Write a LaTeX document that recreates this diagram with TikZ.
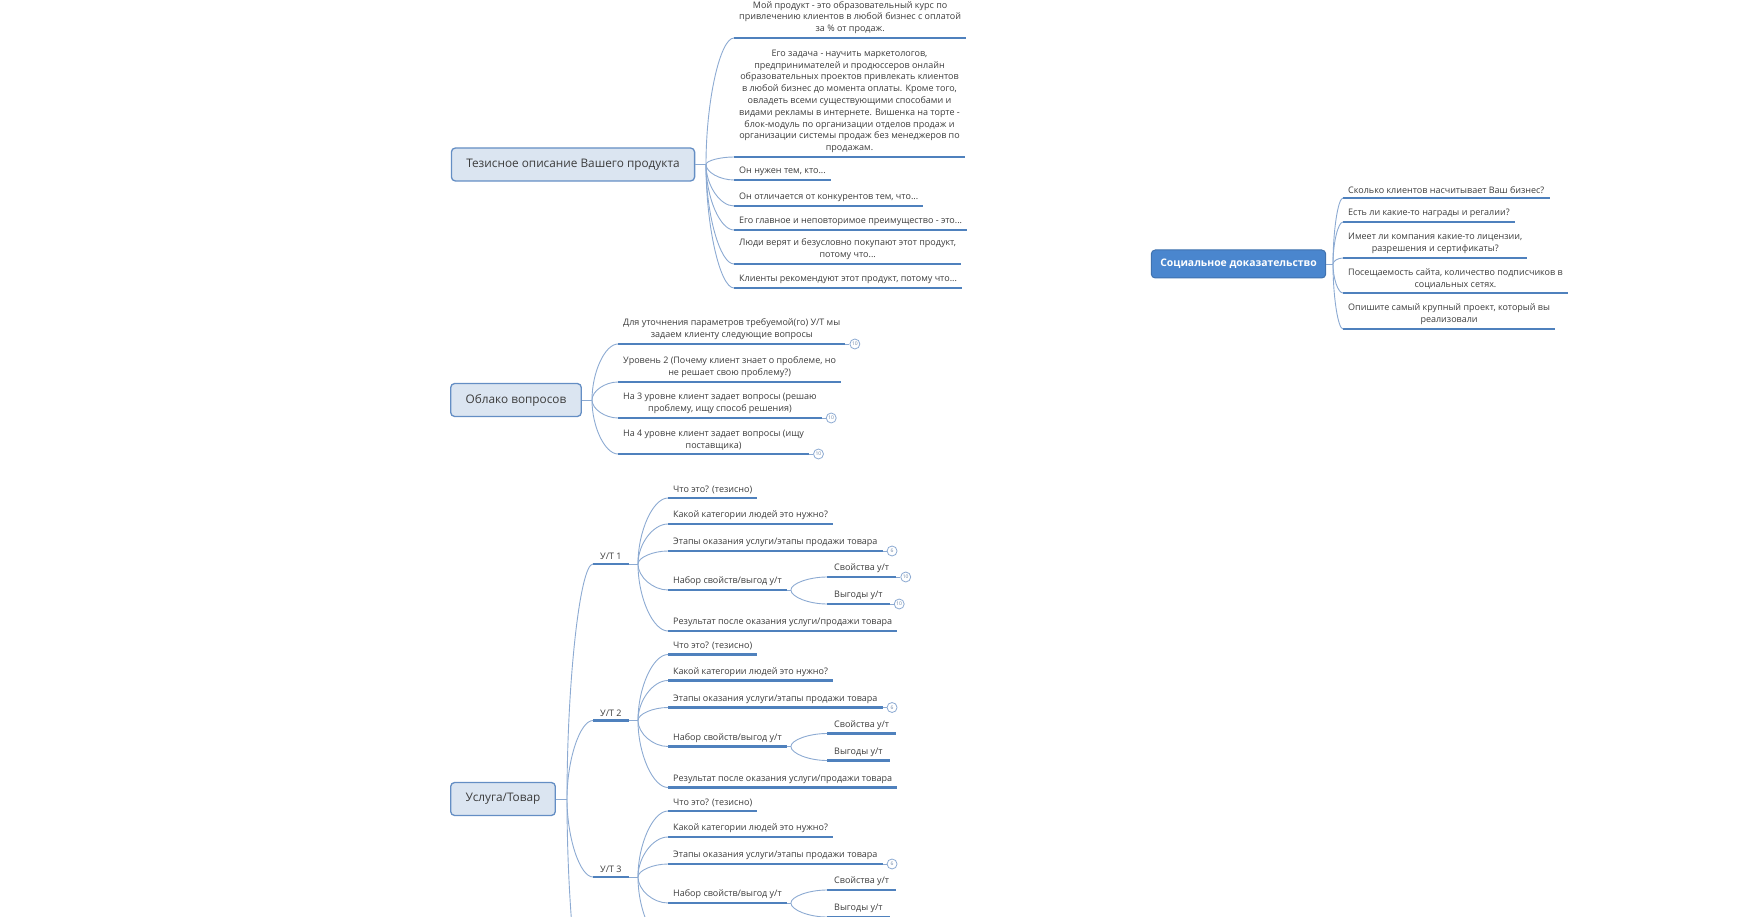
\documentclass[tikz,border=0pt]{standalone}
\usepackage{fontspec}
\setmainfont{Open Sans}
\usetikzlibrary{positioning,calc}

\definecolor{boxfill}{RGB}{219,229,241}
\definecolor{boxline}{RGB}{100,142,196}
\definecolor{socfill}{RGB}{74,134,206}
\definecolor{ulcol}{RGB}{79,129,189}
\definecolor{conncol}{RGB}{140,170,210}
\definecolor{txt}{RGB}{60,60,60}

\tikzset{
  main/.style={draw=boxline, fill=boxfill, rounded corners=4pt, line width=1.3pt, text=txt,
    font=\fontsize{11.8}{14}\selectfont, minimum height=33pt, inner xsep=15pt},
  social/.style={draw=socfill!85!black, fill=socfill, rounded corners=4pt, line width=1pt, text=white,
    font=\fontsize{10.4}{12}\selectfont\bfseries, minimum height=28pt, inner xsep=9pt},
  leaf/.style={anchor=south west, align=center, text=txt, font=\fontsize{9}{11.8}\selectfont,
    inner xsep=5pt, inner ysep=4pt},
  uline/.style={draw=ulcol, line width=2.6pt},
  conn/.style={draw=conncol, line width=0.9pt},
  badge/.style={circle, draw=conncol, fill=white, line width=0.8pt, inner sep=0pt, minimum size=10pt,
    text=conncol!80!black, font=\fontsize{5}{5}\selectfont},
}

% leaf text with its underline
\newcommand\leaf[4][]{\node[leaf,#1] (#2) at (#3) {#4};
  \draw[uline] (#2.south west) -- (#2.south east);}
% curved connector from a fork to a leaf
\newcommand\branch[2]{\draw[conn] (#1) .. controls ($(#1)!0.5!(#1|-#2)$) and ($(#1|-#2)!0.5!(#2)$) .. (#2);}

\begin{document}
\begin{tikzpicture}[x=1pt,y=-1pt]
  \useasboundingbox (0,0) rectangle (1749,917);
  \clip (0,0) rectangle (1749,917);

  % product
  \node[main] (prod) at (573,164.5) {Тезисное описание Вашего продукта};
  \coordinate (jp) at (706,164.5);
  \draw[conn] (prod) -- (jp);

  \leaf{p1}{734,38}{Мой продукт - это образовательный курс по\\привлечению клиентов в любой бизнес с оплатой\\за \% от продаж.}
  \leaf{p2}{734,157}{Его задача - научить маркетологов,\\предпринимателей и продюссеров онлайн\\образовательных проектов привлекать клиентов\\в любой бизнес до момента оплаты. Кроме того,\\овладеть всеми существующими способами и\\видами рекламы в интернете. Вишенка на торте -\\блок-модуль по организации отделов продаж и\\организации системы продаж без менеджеров по\\продажам.}
  \leaf{p3}{734,180}{Он нужен тем, кто...}
  \leaf{p4}{734,206}{Он отличается от конкурентов тем, что...}
  \leaf{p5}{734,230}{Его главное и неповторимое преимущество - это...}
  \leaf{p6}{734,264}{Люди верят и безусловно покупают этот продукт,\\потому что...}
  \leaf{p7}{734,288}{Клиенты рекомендуют этот продукт, потому что...}
  \foreach \n in {1,...,7} {\branch{jp}{p\n.south west}}

  % questions
  \node[main] (cloud) at (516,400) {Облако вопросов};
  \coordinate (jq) at (592,400);
  \draw[conn] (cloud) -- (jq);

  \leaf{q1}{618,344}{Для уточнения параметров требуемой(го) У/Т мы\\задаем клиенту следующие вопросы}
  \leaf{q2}{618,382}{Уровень 2 (Почему клиент знает о проблеме, но\\не решает свою проблему?)}
  \leaf{q3}{618,418}{На 3 уровне клиент задает вопросы (решаю\\проблему, ищу способ решения)}
  \leaf{q4}{618,454}{На 4 уровне клиент задает вопросы (ищу\\поставщика)}
  \foreach \n in {1,...,4} {\branch{jq}{q\n.south west}}
  \foreach \n in {1,3,4} {
    \node[badge, right=4pt of q\n.south east] (q\n b) {10};
    \draw[conn] (q\n.south east) -- (q\n b);
  }

  % social proof
  \node[social] (soc) at (1238.5,264) {Социальное доказательство};
  \coordinate (js) at (1333,264);
  \draw[conn] (soc) -- (js);

  \leaf{s1}{1343,198}{Сколько клиентов насчитывает Ваш бизнес?}
  \leaf{s2}{1343,222}{Есть ли какие-то награды и регалии?}
  \leaf{s3}{1343,258}{Имеет ли компания какие-то лицензии,\\разрешения и сертификаты?}
  \leaf{s4}{1343,293}{Посещаемость сайта, количество подписчиков в\\социальных сетях.}
  \leaf{s5}{1343,329}{Опишите самый крупный проект, который вы\\реализовали}
  \foreach \n in {1,...,5} {\branch{js}{s\n.south west}}

  % goods / services
  \node[main] (serv) at (503,799) {Услуга/Товар};
  \coordinate (jt) at (567,799);
  \draw[conn] (serv) -- (jt);

  \foreach \k/\y in {1/564,2/720.5,3/877} {
    \leaf[inner xsep=7pt]{ut\k}{593,\y}{У/Т \k}
    \branch{jt}{ut\k.south west}
    \coordinate (ju\k) at (638,\y);
    \draw[conn] (ut\k.south east) -- (ju\k);

    \leaf{wh\k}{668,\y-66}{Что это? (тезисно)}
    \leaf{cat\k}{668,\y-40}{Какой категории людей это нужно?}
    \leaf{st\k}{668,\y-13}{Этапы оказания услуги/этапы продажи товара}
    \leaf{set\k}{668,\y+26}{Набор свойств/выгод у/т}
    \ifnum\k<3
      \leaf{res\k}{668,\y+67}{Результат после оказания услуги/продажи товара}
    \else
      \coordinate (res\k) at (668,\y+67);
    \fi
    \foreach \m in {wh,cat,st,set,res} {\branch{ju\k}{\m\k.south west}}

    \node[badge, right=4pt of st\k.south east] (st\k b) {6};
    \draw[conn] (st\k.south east) -- (st\k b);

    \coordinate (jn\k) at ($(set\k.south east)+(4,0)$);
    \draw[conn] (set\k.south east) -- (jn\k);
    \leaf[inner xsep=7pt]{pr\k}{827,\y+13}{Свойства у/т}
    \leaf[inner xsep=7pt]{bn\k}{827,\y+40}{Выгоды у/т}
    \branch{jn\k}{pr\k.south west}
    \branch{jn\k}{bn\k.south west}
  }
  \foreach \m in {pr1,bn1} {
    \node[badge, right=4pt of \m.south east] (\m b) {10};
    \draw[conn] (\m.south east) -- (\m b);
  }
  \coordinate (ut4) at (593,1033);
  \branch{jt}{ut4}
\end{tikzpicture}
\end{document}
